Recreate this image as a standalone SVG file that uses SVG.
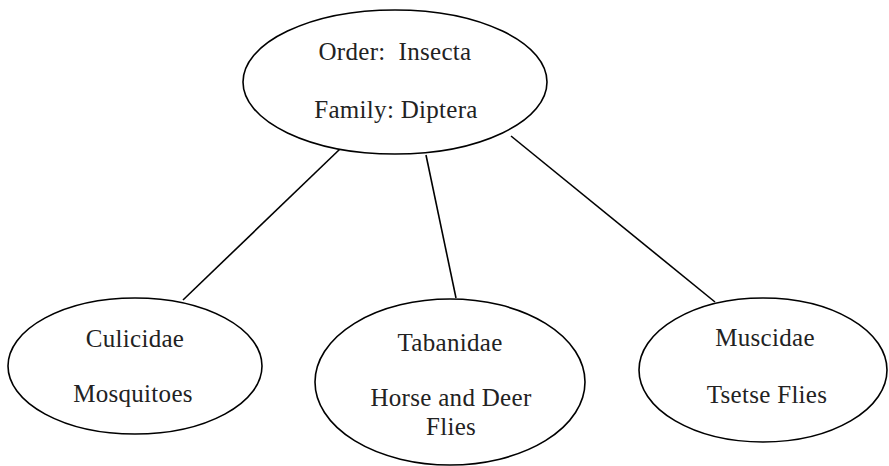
<svg xmlns="http://www.w3.org/2000/svg" width="889" height="466" viewBox="0 0 889 466">
<style>
.n ellipse{fill:#fff;stroke:#000;stroke-width:1.6}
.n text{font-family:"Liberation Serif","Times New Roman",serif;font-size:25px;letter-spacing:0.3px;fill:#222;text-anchor:middle}
#edges line{stroke:#000;stroke-width:1.6}
</style>
<rect width="889" height="466" fill="#fff"/>
<g id="edges">
<line x1="340" y1="149" x2="183" y2="300"/>
<line x1="426" y1="155" x2="456" y2="298"/>
<line x1="511" y1="136" x2="715" y2="302"/>
</g>
<g id="root" class="n">
<ellipse cx="395" cy="82" rx="152" ry="72"/>
<text x="395" y="60" xml:space="preserve">Order:  Insecta</text>
<text x="396" y="118">Family: Diptera</text>
</g>
<g id="culicidae" class="n">
<ellipse cx="135" cy="366" rx="127" ry="68"/>
<text x="135" y="347">Culicidae</text>
<text x="133" y="402">Mosquitoes</text>
</g>
<g id="tabanidae" class="n">
<ellipse cx="450" cy="382" rx="135" ry="83"/>
<text x="450" y="351">Tabanidae</text>
<text x="451" y="406">Horse and Deer</text>
<text x="451" y="435">Flies</text>
</g>
<g id="muscidae" class="n">
<ellipse cx="763" cy="370" rx="124" ry="72"/>
<text x="765" y="346">Muscidae</text>
<text x="767" y="403">Tsetse Flies</text>
</g>
</svg>
